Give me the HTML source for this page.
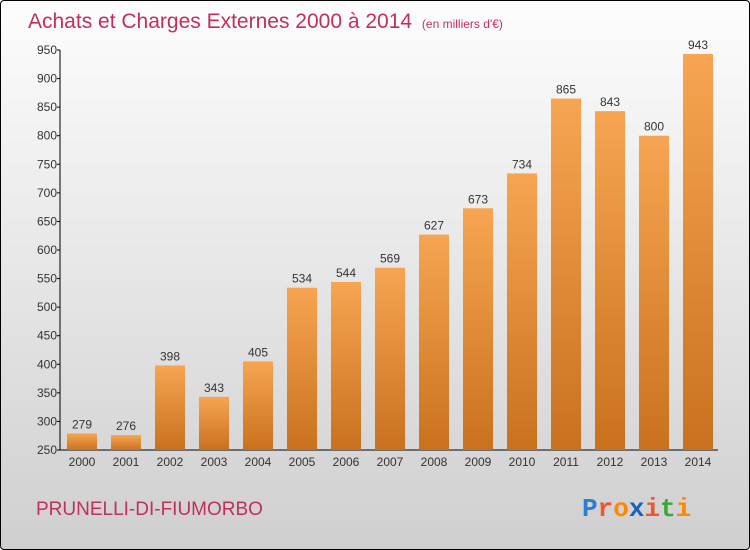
<!DOCTYPE html>
<html><head><meta charset="utf-8"><style>
html,body{margin:0;padding:0}
body{width:750px;height:550px;overflow:hidden;font-family:"Liberation Sans",sans-serif}
#wrap{position:absolute;left:0;top:0;width:748px;height:548px;border:1px solid #000;border-radius:4px;background:linear-gradient(#fdfdfd,#cfcfcf)}
</style></head><body>
<div id="wrap">
<svg id="chart" width="750" height="550" style="position:absolute;left:-1px;top:-1px">
<defs><linearGradient id="bg" x1="0" y1="0" x2="0" y2="1"><stop offset="0" stop-color="#f7a552"/><stop offset="1" stop-color="#c9711e"/></linearGradient></defs>
<text x="28" y="28" font-size="21" fill="#c0305a">Achats et Charges Externes 2000 à 2014 <tspan font-size="12" dx="4">(en milliers d'€)</tspan></text>
<text x="36" y="515" font-size="19" fill="#c0305a">PRUNELLI-DI-FIUMORBO</text>
<text x="582" y="516" font-size="26" font-weight="bold" font-family="Liberation Mono,monospace"><tspan fill="#2a7fd4">P</tspan><tspan fill="#e53">r</tspan><tspan fill="#f80">o</tspan><tspan fill="#1560c0">x</tspan><tspan fill="#e53">i</tspan><tspan fill="#3a3">t</tspan><tspan fill="#f80">i</tspan></text>
<g id="g"></g>
</svg></div>
<script>
const years=["2000","2001","2002","2003","2004","2005","2006","2007","2008","2009","2010","2011","2012","2013","2014"];
const values=[279,276,398,343,405,534,544,569,627,673,734,865,843,800,943];
const ticks=[250,300,350,400,450,500,550,600,650,700,750,800,850,900,950];
const NS="http://www.w3.org/2000/svg",g=document.getElementById('g');
const x0=60,x1=718,yb=450,yt=50,vmin=250,vmax=950;
const y=v=>yb-(v-vmin)/(vmax-vmin)*(yb-yt);
const xc=i=>82+i*44;
function mk(t,a){const e=document.createElementNS(NS,t);for(const k in a)e.setAttribute(k,a[k]);g.appendChild(e);return e;}
let e=mk('line',{x1:x0,y1:yt,x2:x0,y2:yb,stroke:'#000'});

e=mk('line',{x1:x0,y1:yb,x2:x1,y2:yb,stroke:'#000'});

ticks.forEach(t=>{
 let l=mk('line',{x1:x0-3,y1:y(t),x2:x0,y2:y(t),stroke:'#000'});
 
 let tx=mk('text',{x:x0-3,y:y(t)+4,'font-size':12,'text-anchor':'end',fill:'#333'});tx.textContent=t;
 
});
values.forEach((v,i)=>{
 let r=mk('rect',{x:xc(i)-15,y:y(v),width:30,height:yb-y(v),fill:'url(#bg)'});
 
 let tv=mk('text',{x:xc(i),y:y(v)-5,'font-size':12,'text-anchor':'middle',fill:'#333'});tv.textContent=v;
 
 let ty=mk('text',{x:xc(i),y:466,'font-size':12,'text-anchor':'middle',fill:'#333'});ty.textContent=years[i];
 
});
</script>
</body></html>
